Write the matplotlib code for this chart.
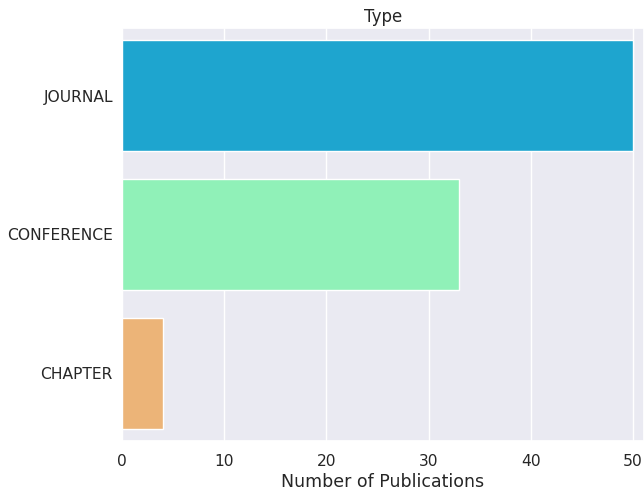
import matplotlib
matplotlib.use("Agg")
import matplotlib.pyplot as plt
import seaborn as sns

types = ["JOURNAL", "CONFERENCE", "CHAPTER"]
counts = [50, 33, 4]
colors = ["#1ea5cf", "#90f1b8", "#ecb478"]

sns.set_theme(style="darkgrid")

fig = plt.figure(figsize=(6.44, 4.91), dpi=100)
ax = fig.add_axes([122 / 644, 1 - 441 / 491, (644 - 122) / 644, (441 - 28) / 491])
ax.barh(types, counts, height=0.8, color=colors)
ax.set_ylim(2.49, -0.49)
ax.set_xlim(0, (644 - 122) / 10.22)
ax.set_xticks([0, 10, 20, 30, 40, 50])
ax.grid(axis="y", visible=False)
ax.tick_params(labelsize=11.2)
ax.tick_params(axis="y", pad=0.6)
ax.set_xlabel("Number of Publications", fontsize=12.5, labelpad=3)
ax.set_title("Type", fontsize=12, pad=4)
fig.savefig("out.png", dpi=100)
